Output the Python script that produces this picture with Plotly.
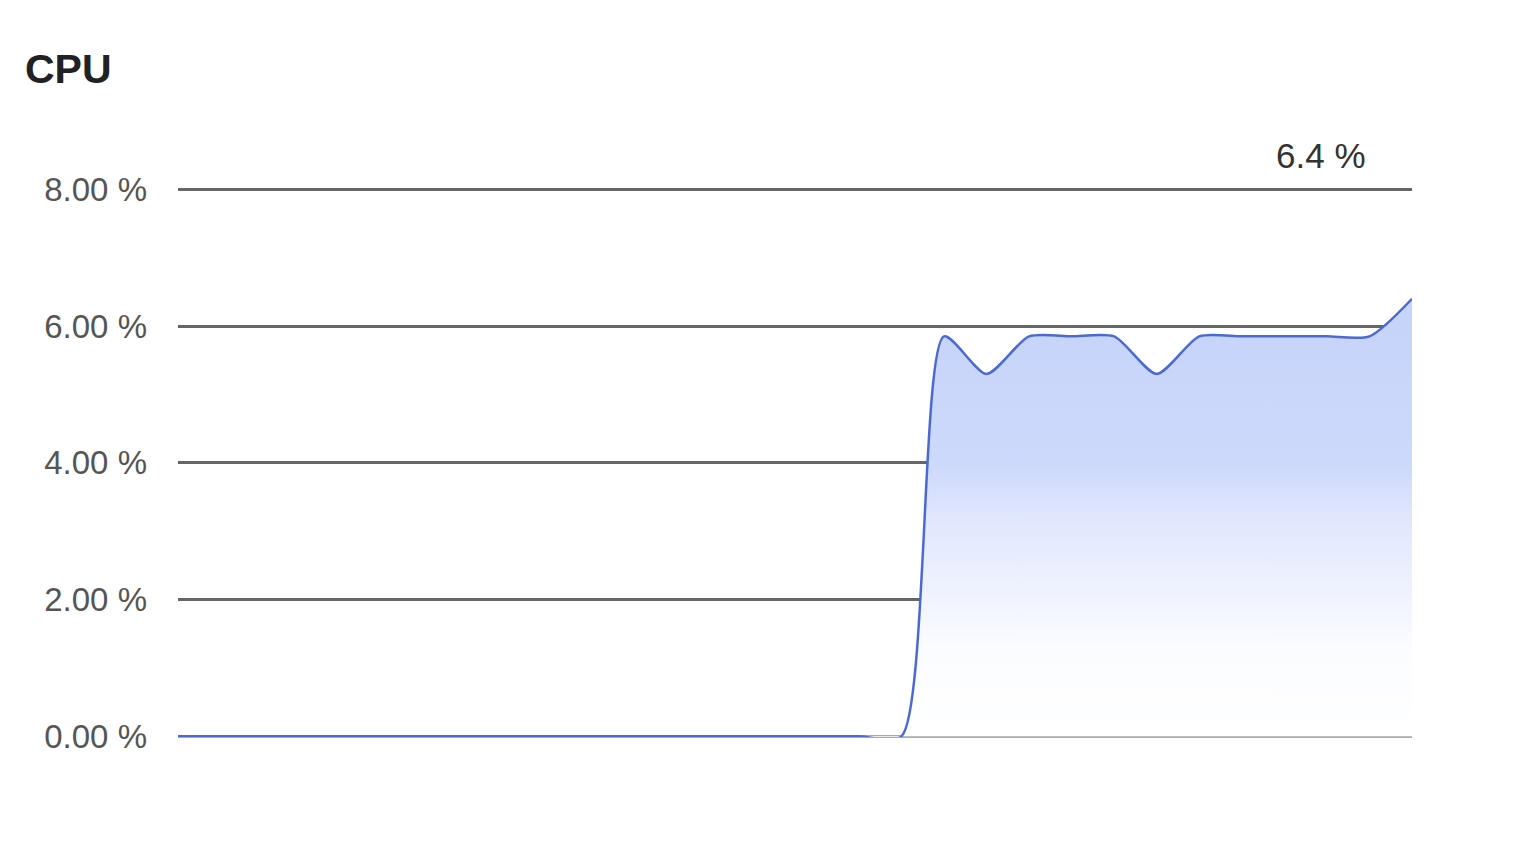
import plotly.graph_objects as go

# CPU usage samples (one per second), oldest first
seconds = list(range(1, 31))
cpu = [0, 0, 0, 0, 0, 0, 0, 0, 0,
       0, 0, 0, 0, 0, 0, 0, 0, 0, 5.85,
       5.3, 5.85, 5.85, 5.85, 5.3, 5.85, 5.85, 5.85, 5.85, 5.85,
       6.4]
y_ticks = [0, 2, 4, 6, 8]
y_labels = ["%.2f %%" % v for v in y_ticks]
current = "%.1f %%" % cpu[-1]

fig = go.Figure()
fig.add_trace(go.Scatter(
    x=seconds, y=cpu, mode="lines",
    line=dict(color="#4b69d2", width=2.5, shape="spline", smoothing=0.7),
    fill="tozeroy",
    fillgradient=dict(
        type="vertical", start=0, stop=6.4,
        colorscale=[[0, "#ffffff"], [0.2, "#fbfcff"], [0.31, "#f1f4fe"],
                    [0.5, "#e0e7fd"], [0.62, "#cdd9fb"], [1, "#c6d3fa"]],
    ),
    hoverinfo="skip",
))

fig.add_annotation(
    x=1, xref="paper", xanchor="right", xshift=-44,
    y=8, yref="y", yanchor="bottom", yshift=12,
    text=current, showarrow=False,
    font=dict(family="Arial, Liberation Sans", size=35, color="#333333"),
)

fig.update_layout(
    width=1518, height=855,
    margin=dict(l=170, r=114, t=180, b=126),
    paper_bgcolor="white", plot_bgcolor="white",
    showlegend=False,
    title=dict(text="CPU", x=17 / 1518, xref="container", xanchor="left",
               y=1, yref="container", yanchor="top", pad=dict(t=46),
               font=dict(family="Arial, Liberation Sans", size=41, color="#202124", weight=600)),
    xaxis=dict(range=[1, 30], visible=False, fixedrange=True),
    yaxis=dict(range=[-0.01, 8.02], tickvals=y_ticks, ticktext=y_labels,
               showgrid=True, gridcolor="#666666", gridwidth=3,
               zeroline=True, zerolinecolor="#aaaaaa", zerolinewidth=3,
               showline=False, ticks="", ticklabelstandoff=30,
               tickfont=dict(family="Arial, Liberation Sans", size=33, color="#555555"),
               fixedrange=True),
)

fig.write_html("out.html")
